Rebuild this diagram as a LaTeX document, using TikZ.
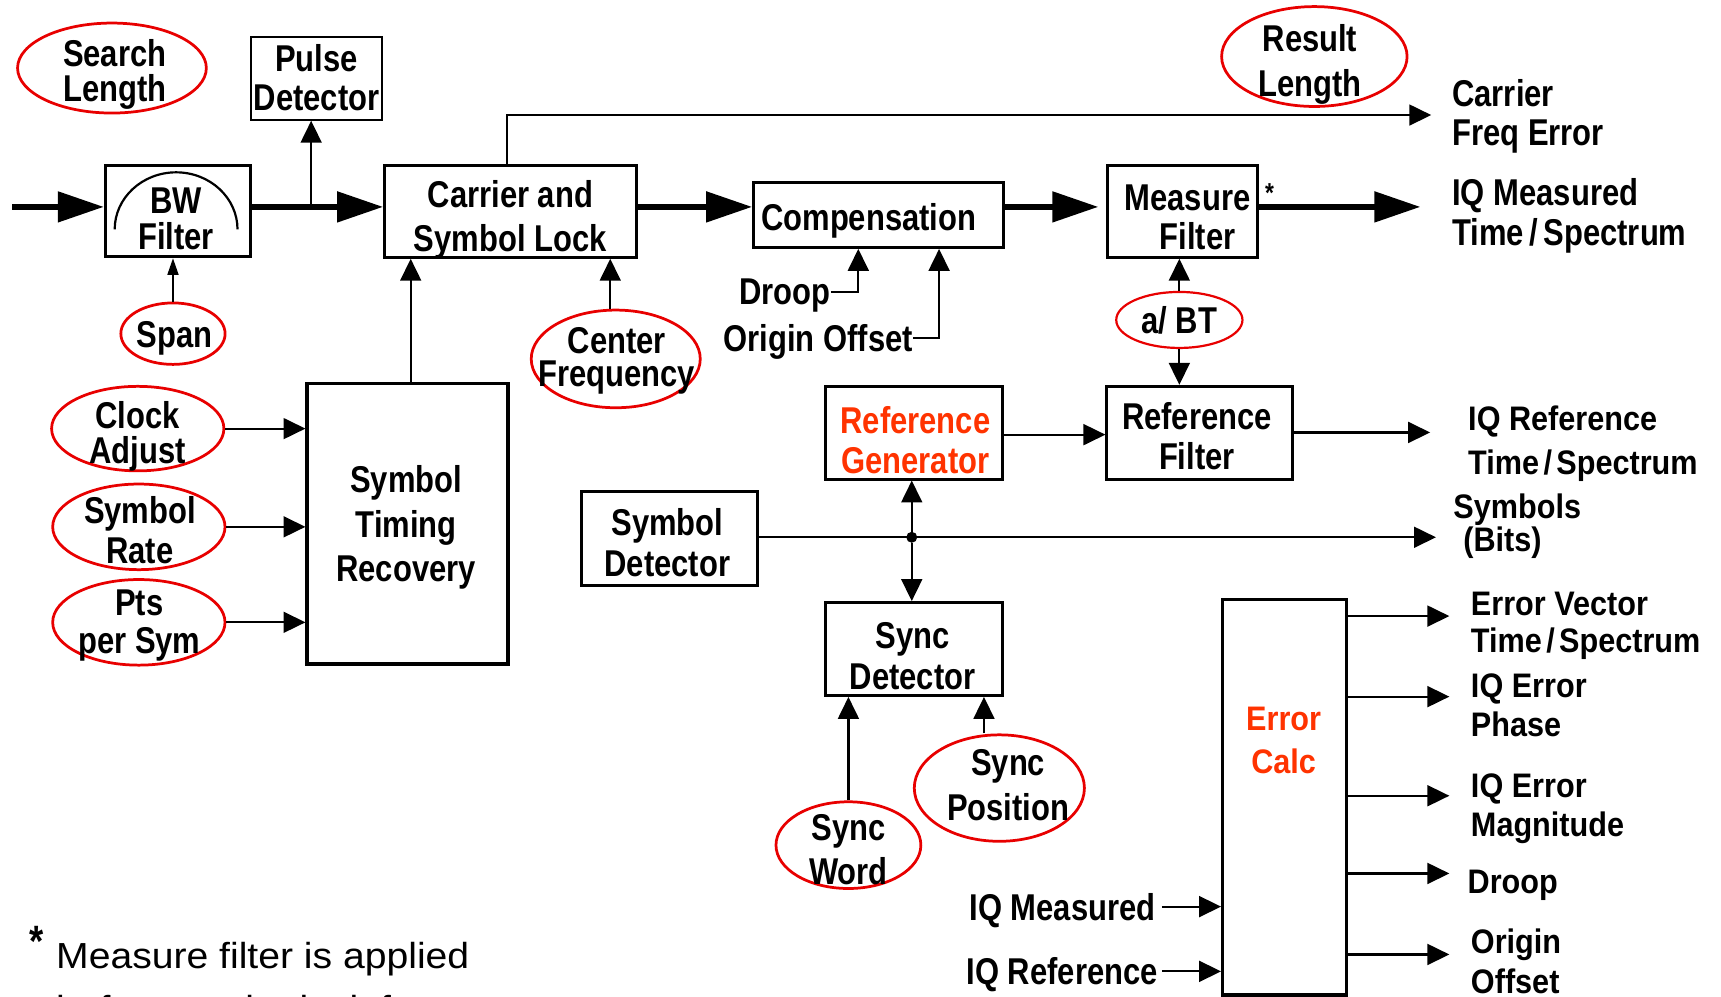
\documentclass[tikz,border=0pt]{standalone}
\usepackage{fontspec}
\usetikzlibrary{arrows.meta,shapes.geometric}
\newfontfamily\cnd{Liberation Sans Bold}[FakeStretch=0.83]
\newfontfamily\wid{Liberation Sans Bold}[FakeStretch=0.9]
\newfontfamily\lite{Liberation Sans}[FakeStretch=1.08]
\definecolor{ovalred}{RGB}{232,0,0}
\definecolor{hot}{RGB}{255,51,0}
\newcommand\tsl[1]{\kern#1/\kern#1}

\tikzset{
  txt/.style={align=center, inner sep=0pt, font=\cnd\fontsize{34}{#1}\selectfont},
  txt/.default=36,
  wtxt/.style={align=left, inner sep=0pt, anchor=west, font=\wid\fontsize{31}{#1}\selectfont},
  wtxt/.default=36,
  oneline/.style={inner sep=0pt, text depth=0pt, font=\cnd\fontsize{34}{36}\selectfont},
  box/.style={draw, line width=2.7pt, inner sep=0pt},
  oval/.style={ellipse, draw=ovalred, line width=2.5pt, inner sep=0pt},
  big/.style={line width=5.5pt, -{Triangle[length=42pt,width=27pt]}},
  arr/.style={line width=2pt, -{Triangle[length=20pt,width=19pt]}},
  small/.style={line width=1.5pt, -{Triangle[length=15pt,width=10pt]}},
}

\begin{document}
\begin{tikzpicture}[x=1pt,y=-1pt]
\useasboundingbox (0,0) rectangle (1568,908);
\fill[white] (0,0) rectangle (1568,908);

% ---------- blocks ----------
\node[box, line width=2pt, minimum width=119, minimum height=75] (pulse) at (288.5,71.5) {};
\node[box, minimum width=132, minimum height=83] (bw) at (162,192.5) {};
\node[box, minimum width=229, minimum height=84] (carrier) at (465,192.4) {};
\node[box, minimum width=228, minimum height=59] (comp) at (800.7,195.9) {};
\node[box, minimum width=137, minimum height=84] (meas) at (1077.6,192.4) {};
\node[box, line width=3pt, minimum width=183, minimum height=255.5] (str) at (371.3,477.3) {};
\node[box, minimum width=161, minimum height=84.5] (refgen) at (832.5,394.2) {};
\node[box, minimum width=169, minimum height=84.5] (reffilt) at (1093,394.2) {};
\node[box, minimum width=161, minimum height=85] (symdet) at (610,490.5) {};
\node[box, minimum width=161, minimum height=84.6] (syncdet) at (832.5,591.3) {};
\node[box, line width=3pt, minimum width=113, minimum height=360] (errcalc) at (1170.5,726.5) {};

% filter passband sketch inside the BW filter block
\draw[line width=2pt] (104.5,209) .. controls (104.5,180.3) and (129.6,157) .. (160.5,157)
                                  .. controls (191.4,157) and (216.4,180.3) .. (216.4,209);

% ---------- parameter ovals ----------
\node[oval, minimum width=172, minimum height=82] (search) at (102,62) {};
\node[oval, minimum width=95, minimum height=56] (span) at (157.6,304) {};
\node[oval, minimum width=154, minimum height=89] (cf) at (561,327) {};
\node[oval, minimum width=169, minimum height=91] (result) at (1197.5,51.5) {};
\node[oval, line width=2pt, minimum width=115, minimum height=51] (abt) at (1074.5,291.5) {};
\node[oval, minimum width=157, minimum height=77] (clock) at (125.5,390.5) {};
\node[oval, minimum width=157, minimum height=78] (symrate) at (126.5,480) {};
\node[oval, minimum width=157, minimum height=78] (pts) at (126.5,567) {};
\node[oval, minimum width=132, minimum height=79] (sw) at (773,770) {};
\node[oval, minimum width=155, minimum height=97] (sp) at (910.5,718) {};

% ---------- texts ----------
\node[txt=32.6] (search-t) at (104.5,67.8) {Search\\Length};
\node[txt=35] (pulse-t) at (288.5,70.6) {Pulse\\Detector};
\node[txt=33.4] (bw-t) at (160.5,199.5) {BW\\Filter};
\node[txt=40.3] (carrier-t) at (465,200.6) {Carrier and\\Symbol Lock};
\node[oneline] (comp-t) at (791.5,197.5) {Compensation};
\node[txt=35.8] (meas-t) at (1082,197.8) {Measure\\\hspace*{18pt}Filter};
\node[font=\cnd\fontsize{25}{25}\selectfont, inner sep=0pt] (star) at (1156.6,176) {*};
\node[txt=41] (result-t) at (1193.5,59) {Result\\Length};
\node[txt=35.4, align=left, anchor=west] (cfe-t) at (1323,105.8) {Carrier\\Freq Error};
\node[txt=36.2, align=left, anchor=west] (iqm-t) at (1323,196.4) {IQ Measured\\Time\tsl{5pt}Spectrum};
\node[oneline, anchor=east] (droop) at (757,265.8) {Droop};
\node[oneline, anchor=east] (oofs) at (832,308.2) {Origin Offset};
\node[oneline] (abt-t) at (1074.5,291.5) {a/ BT};
\node[txt] (span-t) at (159,308.7) {Span};
\node[txt=30.4] (cf-t) at (562,328.5) {Center\\Frequency};
\node[txt=40.7] (str-t) at (370,480.6) {Symbol\\Timing\\Recovery};
\node[txt=32.5] (clock-t) at (125.5,397.7) {Clock\\Adjust};
\node[txt=36] (symrate-t) at (127.5,482.9) {Symbol\\Rate};
\node[txt=34.4] (pts-t) at (127,569.6) {Pts\\per Sym};
\node[txt=35.6, text=hot] (refgen-t) at (834,401) {Reference\\Generator};
\node[txt=36.3] (reffilt-t) at (1090.5,397.7) {Reference\\Filter};
\node[txt=37.4] (symdet-t) at (608,494.6) {Symbol\\Detector};
\node[txt=37] (syncdet-t) at (831.5,598) {Sync\\Detector};
\node[txt=40] (sw-t) at (773,773.7) {Sync\\Word};
\node[txt=41] (sp-t) at (918.5,715) {Sync\\Position};
\node[wtxt=40, anchor=center, align=center, text=hot] (errc-t) at (1169.5,674.6) {Error\\Calc};
\node[oneline, anchor=east] (iqml) at (1053,826) {IQ Measured};
\node[oneline, anchor=east] (iqrl) at (1055,885) {IQ Reference};

\node[wtxt=40] (iqr-t) at (1337.5,404.2) {IQ Reference\\Time\tsl{4pt}Spectrum};
\node[wtxt=29.6] (sym-t) at (1324,479.3) {Symbols\\\hspace*{9pt}(Bits)};
\node[wtxt=34] (ev-t) at (1340,570) {Error Vector\\Time\tsl{4pt}Spectrum};
\node[wtxt=35.6] (ph-t) at (1340,642.8) {IQ Error\\Phase};
\node[wtxt=36.3] (mag-t) at (1340,736.8) {IQ Error\\Magnitude};
\node[wtxt] (dr-t) at (1337,806.4) {Droop};
\node[wtxt=36.4] (oo-t) at (1340,875.7) {Origin\\Offset};

% footnote
\node[font=\cnd\fontsize{40}{40}\selectfont, inner sep=0pt] (note-star) at (33,858) {*};
\node[font=\lite\fontsize{33}{44}\selectfont, inner sep=0pt, anchor=base west] (note1) at (51,882) {Measure filter is applied};
\node[font=\lite\fontsize{33}{44}\selectfont, inner sep=0pt, anchor=base west] (note2) at (51,931) {before carrier lock for};

% ---------- connectors ----------
\coordinate (in) at (11,188.5);
\coordinate (jp) at (283.5,188.5);
\draw[big] (in) -- (bw.west |- in);
\draw[big] (bw.east |- in) -- (carrier.west |- in);
\draw[arr] (jp) -- (pulse.south -| jp);
\draw[small] (span.north) -- (bw.south -| span.north);

\coordinate (k1) at (461.6,104.8);
\coordinate (cfe) at (1304,104.8);
\draw[arr] (carrier.north -| k1) -- (k1) -- (cfe);
\draw[big] (carrier.east |- in) -- (comp.west |- in);
\draw[big, shorten >=7pt] (comp.east |- in) -- (meas.west |- in);
\coordinate (iqm) at (1294.2,188.5);
\draw[big] (meas.east |- in) -- (iqm);

\coordinate (k2) at (374.2,0);
\coordinate (k3) at (556,0);
\draw[arr] (str.north -| k2) -- (carrier.south -| k2);
\draw[arr] (cf.north -| k3) -- (carrier.south -| k3);

\coordinate (k4) at (782,0);
\coordinate (k5) at (855.6,0);
\draw[arr] (droop.east) -| (comp.south -| k4);
\draw[arr] (oofs.east) -| (comp.south -| k5);

\draw[arr] (abt.north) -- (meas.south -| abt.north);
\draw[arr] (abt.south) -- (reffilt.north -| abt.south);

\draw[arr] (clock.east) -- (str.west |- clock.east);
\draw[arr] (symrate.east) -- (str.west |- symrate.east);
\draw[arr] (pts.east) -- (str.west |- pts.east);

\coordinate (k6) at (0,396);
\draw[arr] (refgen.east |- k6) -- (reffilt.west |- k6);
\coordinate (iqr) at (1303,394);
\draw[arr] (reffilt.east |- iqr) -- (iqr);

\coordinate (syb) at (1308.3,489.5);
\draw[arr] (symdet.east |- syb) -- (syb);
\node[circle, fill, inner sep=0pt, minimum size=10pt] (dot) at (830.7,489.5) {};
\draw[arr] (dot) -- (refgen.south -| dot);
\draw[arr] (dot) -- (syncdet.north -| dot);

\coordinate (k8) at (896.5,0);
\draw[arr] (sw.north) -- (syncdet.south -| sw.north);
\draw[arr] (sp.north -| k8) -- (syncdet.south -| k8);

\draw[arr, shorten <=5.5pt] (iqml.east) -- (errcalc.west |- iqml.east);
\draw[arr, shorten <=3.5pt] (iqrl.east) -- (errcalc.west |- iqrl.east);

\foreach \n/\y in {o1/561.3, o2/634.7, o3/725, o4/795.8, o5/869.6} {
  \coordinate (\n) at (1320.5,\y);
  \draw[arr] (errcalc.east |- \n) -- (\n);
}
\end{tikzpicture}
\end{document}
